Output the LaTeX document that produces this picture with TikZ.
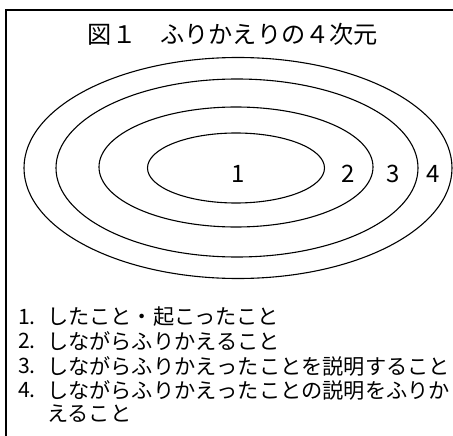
\documentclass[tikz,border=0pt]{standalone}
\usepackage{fontspec}
\setmainfont{Noto Sans CJK JP}
\usetikzlibrary{shapes.geometric}
\tikzset{
  ring/.style={draw, ellipse, line width=1.1pt, inner sep=0pt},
  num/.style={font=\fontsize{24}{24}\selectfont, inner sep=0pt},
  item/.style={font=\fontsize{21.2}{22}\selectfont, anchor=west, inner sep=0pt},
  inum/.style={font=\fontsize{21.2}{22}\selectfont, anchor=west, inner sep=0pt},
}
\begin{document}
\begin{tikzpicture}[x=1pt, y=-1pt]
\useasboundingbox[fill=white] (0,0) rectangle (453,436);
\coordinate (tr) at (453,10);
\coordinate (tl) at (6,10);
\coordinate (bl) at (6,436);
\draw[line width=1.3pt] (tr) -- (tl) -- (bl);
\node[font=\fontsize{24.2}{24}\selectfont, inner sep=0pt] (title) at (233,34) {図１　ふりかえりの４次元};
\node[ring, minimum width=428pt, minimum height=221pt] (e4) at (238,168) {};
\node[ring, minimum width=362pt, minimum height=178pt] (e3) at (237,168) {};
\node[ring, minimum width=274pt, minimum height=120pt] (e2) at (236,167) {};
\node[ring, minimum width=177pt, minimum height=70pt] (e1) at (236,168) {};
\node[num] (n1) at (238,174) {1};
\node[num] (n2) at (348,174) {2};
\node[num] (n3) at (393,174) {3};
\node[num] (n4) at (433,174) {4};
\node[inum] (i1) at (18,317) {1.};
\node[item] (t1) at (47,317) {したこと・起こったこと};
\node[inum] (i2) at (18,341) {2.};
\node[item] (t2) at (47,341) {しながらふりかえること};
\node[inum] (i3) at (18,366) {3.};
\node[item] (t3) at (47,366) {しながらふりかえったことを説明すること};
\node[inum] (i4) at (18,390) {4.};
\node[item] (t4) at (47,390) {しながらふりかえったことの説明をふりか};
\node[item] (t5) at (47,414) {えること};
\end{tikzpicture}
\end{document}
